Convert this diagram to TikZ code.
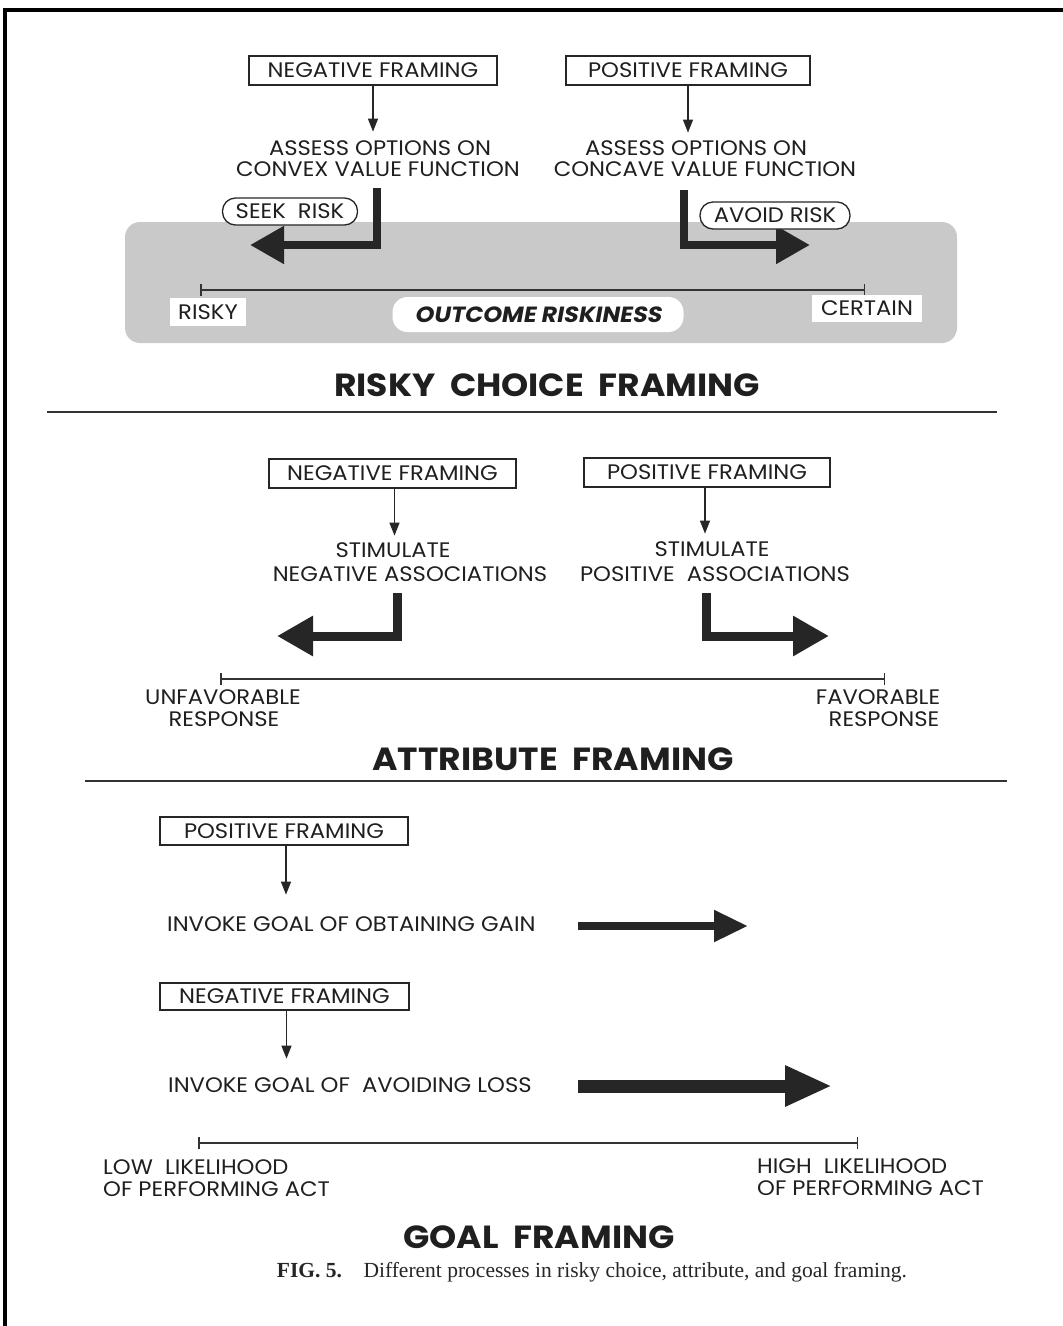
\documentclass[tikz,border=0pt]{standalone}
\usepackage{fontspec}
\setmainfont{Liberation Serif}
\newfontfamily\ag[FakeStretch=1.08]{Poppins}
\newfontfamily\agi[FakeStretch=1.08,FakeSlant=0.18]{Poppins}
\usetikzlibrary{arrows.meta}
\tikzset{
  txt/.style={font=\ag\fontsize{21}{22}\selectfont, inner sep=0pt, text=black!88},
  framebox/.style={txt, draw=black!85, line width=1.3pt, minimum height=29pt},
  pill/.style={txt, draw=black!85, fill=white, rounded corners=13pt, line width=1.3pt, minimum height=27pt},
  thinarr/.style={draw=black!85, line width=1.1pt, -{Triangle[length=13pt,width=10pt]}},
  bigarr/.style={draw=black!85, line width=8pt, -{Triangle[length=34pt,width=36pt]}},
  scale axis/.style={draw=black!80, line width=1.5pt, {Bar[width=12pt]}-{Bar[width=12pt]}},
  sectitle/.style={font=\ag\bfseries\fontsize{32}{34}\selectfont, inner sep=0pt, text=black!88},
  seprule/.style={draw=black!80, line width=1.3pt},
  whitebox/.style={txt, fill=white},
}
\begin{document}
\begin{tikzpicture}[x=1pt,y=-1pt]
\useasboundingbox (0,0) rectangle (1063,1326);
\draw[line width=3.5pt] (1063,10) -- (5,10) -- (5,1326);

% ---------------- Risky choice framing
\fill[gray!42, rounded corners=15pt] (125,222) rectangle (957,343);
\node[framebox, minimum width=248pt] (nf1) at (373,70.5) {NEGATIVE FRAMING};
\node[framebox, minimum width=244pt] (pf1) at (688,70.5) {POSITIVE FRAMING};
\node[txt] (a1) at (380,148) {ASSESS OPTIONS ON};
\node[txt] (a2) at (378,169) {CONVEX VALUE FUNCTION};
\node[txt] (b1) at (696,148) {ASSESS OPTIONS ON};
\node[txt] (b2) at (705,169) {CONCAVE VALUE FUNCTION};
\draw[thinarr] (nf1.south) -- ++(0,46);
\draw[thinarr] (pf1.south) -- ++(0,47);
\coordinate (s1a) at (377,188);
\coordinate (s1b) at (250,245);
\coordinate (s2a) at (684,190);
\coordinate (s2b) at (810,245);
\draw[bigarr] (s1a) |- (s1b);
\draw[bigarr] (s2a) |- (s2b);
\node[pill, minimum width=135pt] (seek) at (290,211.5) {SEEK~ RISK};
\node[pill, minimum width=150pt] (avoid) at (775,215.5) {AVOID RISK};
\coordinate (r0) at (200,290);
\coordinate (r1) at (865,290);
\draw[scale axis] (r0) -- (r1);
\node[whitebox, minimum width=76pt, minimum height=28pt] (risky) at (208,312) {RISKY};
\node[whitebox, rounded corners=15pt, minimum width=291pt, minimum height=35pt,
      font=\agi\bfseries\fontsize{22}{23}\selectfont] (outc) at (538,314.5) {OUTCOME RISKINESS};
\node[whitebox, minimum width=110pt, minimum height=27pt] (cert) at (867,308.5) {CERTAIN};
\node[sectitle] (t1) at (547,385) {RISKY~ CHOICE~ FRAMING};
\draw[seprule] (47,412) -- (997,412);

% ---------------- Attribute framing
\node[framebox, minimum width=247pt] (nf2) at (392.5,473.5) {NEGATIVE FRAMING};
\node[framebox, minimum width=246pt] (pf2) at (707,472.5) {POSITIVE FRAMING};
\draw[thinarr] ([xshift=2pt]nf2.south) -- ++(0,47);
\draw[thinarr] ([xshift=-2pt]pf2.south) -- ++(0,46);
\node[txt] (c1) at (393,550) {STIMULATE};
\node[txt] (c2) at (410,574) {NEGATIVE ASSOCIATIONS};
\node[txt] (d1) at (712,549) {STIMULATE};
\node[txt] (d2) at (715,574) {POSITIVE~ ASSOCIATIONS};
\coordinate (u1a) at (397,593);
\coordinate (u1b) at (277,636);
\coordinate (u2a) at (706,593);
\coordinate (u2b) at (829,636);
\draw[bigarr, line width=9pt, -{Triangle[length=36pt,width=38pt]}] (u1a) |- (u1b);
\draw[bigarr, line width=9pt, -{Triangle[length=36pt,width=38pt]}] (u2a) |- (u2b);
\coordinate (q0) at (220,679);
\coordinate (q1) at (885,679);
\draw[scale axis] (q0) -- (q1);
\node[txt] (unf1) at (223,697) {UNFAVORABLE};
\node[txt] (unf2) at (224,719) {RESPONSE};
\node[txt] (fav1) at (878,697) {FAVORABLE};
\node[txt] (fav2) at (884,719) {RESPONSE};
\node[sectitle] (t2) at (553,759) {ATTRIBUTE~ FRAMING};
\draw[seprule] (85,781) -- (1007,781);

% ---------------- Goal framing
\node[framebox, minimum width=248pt, minimum height=28pt] (pf3) at (284,831) {POSITIVE FRAMING};
\draw[thinarr] ([xshift=2pt]pf3.south) -- ++(0,49);
\node[txt, anchor=west] (g1) at (167,924) {INVOKE GOAL OF OBTAINING GAIN};
\coordinate (ga) at (578,926);
\coordinate (gb) at (748,926);
\draw[bigarr, line width=8pt, -{Triangle[length=34pt,width=30pt]}] (ga) -- (gb);
\node[framebox, minimum width=249pt, minimum height=27pt] (nf3) at (284.5,996.5) {NEGATIVE FRAMING};
\draw[thinarr] ([xshift=2pt]nf3.south) -- ++(0,48);
\node[txt, anchor=west] (g2) at (168,1085) {INVOKE GOAL OF~ AVOIDING LOSS};
\coordinate (gc) at (578,1086);
\coordinate (gd) at (832,1086);
\draw[bigarr, line width=13pt, -{Triangle[length=47pt,width=38pt]}] (gc) -- (gd);
\coordinate (w0) at (198,1143);
\coordinate (w1) at (858,1143);
\draw[scale axis] (w0) -- (w1);
\node[txt, anchor=west] (lo1) at (103,1167) {LOW~ LIKELIHOOD};
\node[txt, anchor=west] (lo2) at (103,1189) {OF PERFORMING ACT};
\node[txt, anchor=west] (hi1) at (757,1166) {HIGH~ LIKELIHOOD};
\node[txt, anchor=west] (hi2) at (757,1188) {OF PERFORMING ACT};
\node[sectitle] (t3) at (539,1237) {GOAL~ FRAMING};
\node[font=\fontsize{21.5}{23}\selectfont, inner sep=0pt, text=black!85] (cap) at (592,1272)
  {\textbf{FIG. 5.}\quad Different processes in risky choice, attribute, and goal framing.};
\end{tikzpicture}
\end{document}
